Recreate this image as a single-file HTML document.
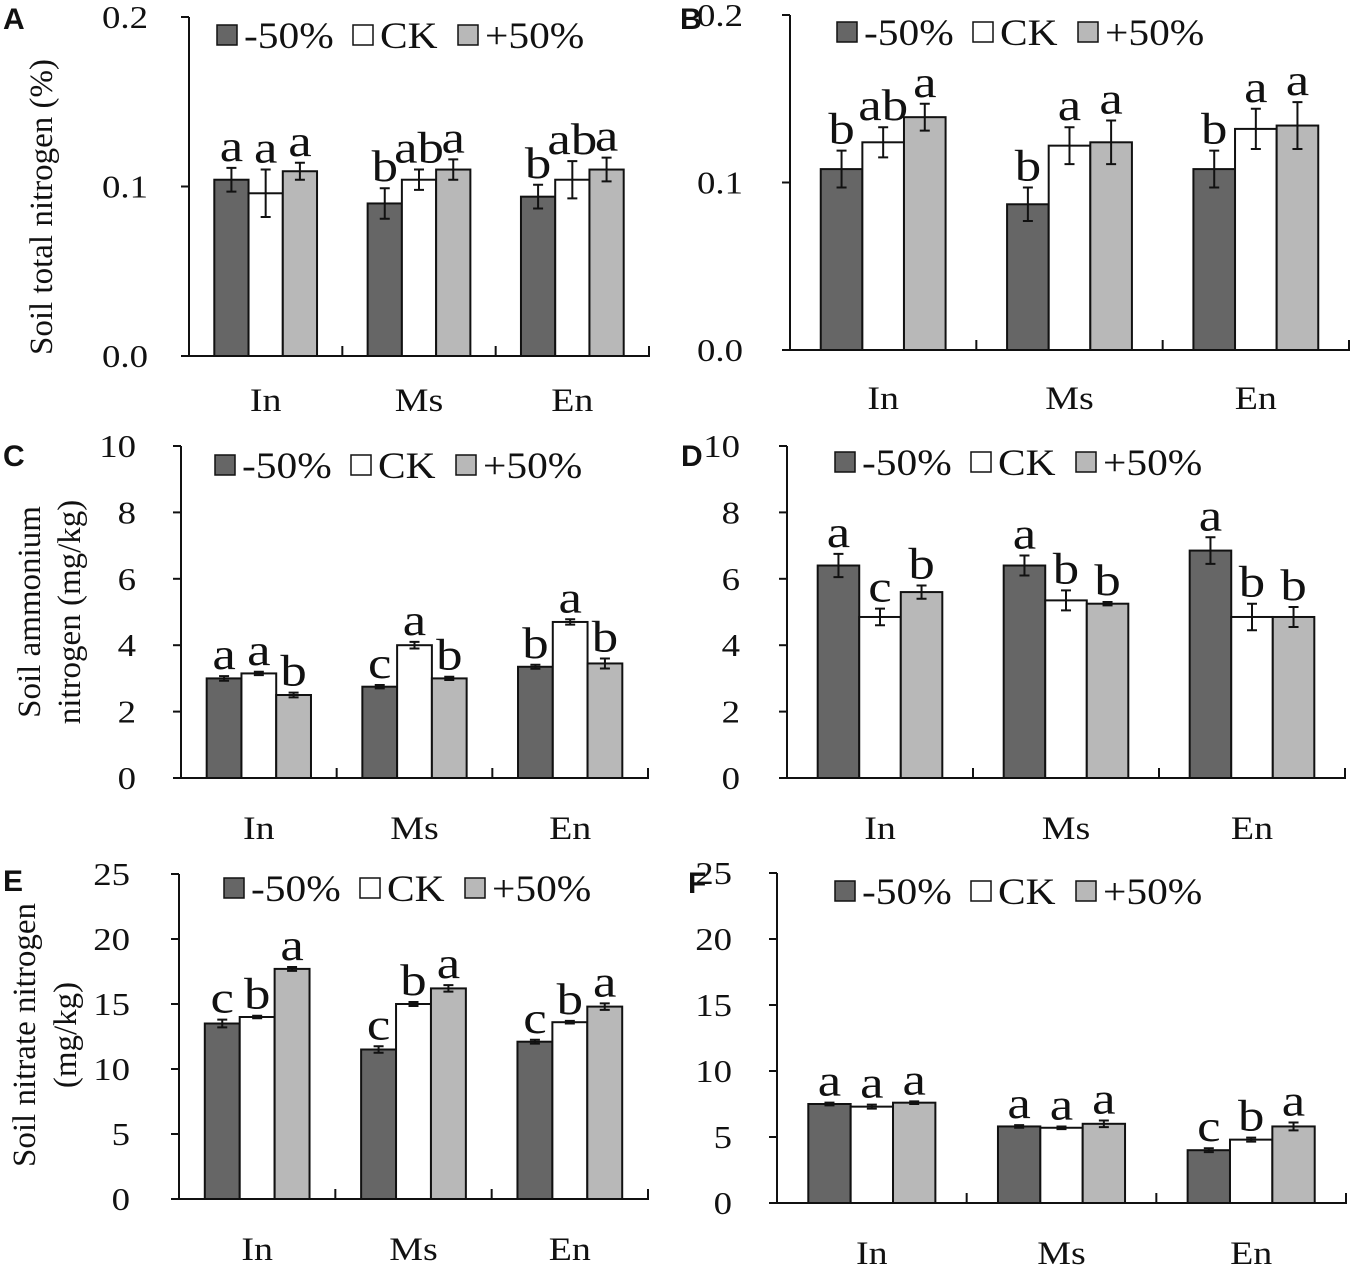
<!DOCTYPE html>
<html><head><meta charset="utf-8">
<style>
html,body{margin:0;padding:0;background:#fff;}
svg{display:block;}
text{font-family:"Liberation Serif",serif;fill:#111;}
.pl{font-family:"Liberation Sans",sans-serif;font-weight:bold;font-size:30px;}
</style></head>
<body>
<svg id="fig" width="1350" height="1267" viewBox="0 0 1350 1267" xmlns="http://www.w3.org/2000/svg"></svg>
<script>
const categories = ["In","Ms","En"];
const seriesNames = ["-50%","CK","+50%"];
const seriesColors = ["#666666","#ffffff","#b8b8b8"];

// Panel A
const aValues = [[0.104,0.090,0.094],[0.096,0.104,0.104],[0.109,0.110,0.110]];
const aErrors = [[0.007,0.009,0.007],[0.014,0.006,0.011],[0.005,0.006,0.007]];
const aLetters = [["a","b","b"],["a","ab","ab"],["a","a","a"]];
const aTicks = ["0.0","0.1","0.2"];
// Panel B
const bValues = [[0.108,0.087,0.108],[0.124,0.122,0.132],[0.139,0.124,0.134]];
const bErrors = [[0.011,0.010,0.011],[0.009,0.011,0.012],[0.008,0.013,0.014]];
const bLetters = [["b","b","b"],["ab","a","a"],["a","a","a"]];
const bTicks = ["0.0","0.1","0.2"];
// Panel C
const cValues = [[3.0,2.75,3.35],[3.15,4.0,4.7],[2.5,3.0,3.45]];
const cErrors = [[0.07,0.05,0.06],[0.05,0.1,0.08],[0.07,0.05,0.15]];
const cLetters = [["a","c","b"],["a","a","a"],["b","b","b"]];
const cTicks = ["0","2","4","6","8","10"];
// Panel D
const dValues = [[6.4,6.4,6.85],[4.85,5.35,4.85],[5.6,5.25,4.85]];
const dErrors = [[0.35,0.3,0.4],[0.25,0.3,0.4],[0.2,0.05,0.3]];
const dLetters = [["a","a","a"],["c","b","b"],["b","b","b"]];
const dTicks = ["0","2","4","6","8","10"];
// Panel E
const eValues = [[13.5,11.5,12.1],[14.0,15.0,13.6],[17.7,16.2,14.8]];
const eErrors = [[0.3,0.25,0.15],[0.1,0.15,0.1],[0.15,0.25,0.25]];
const eLetters = [["c","c","c"],["b","b","b"],["a","a","a"]];
const eTicks = ["0","5","10","15","20","25"];
// Panel F
const fValues = [[7.5,5.8,4.0],[7.3,5.7,4.8],[7.6,6.0,5.8]];
const fErrors = [[0.1,0.1,0.15],[0.15,0.1,0.15],[0.1,0.25,0.3]];
const fLetters = [["a","a","c"],["a","a","b"],["a","a","a"]];
const fTicks = ["0","5","10","15","20","25"];

const NS="http://www.w3.org/2000/svg";
const svg=document.getElementById('fig');
function mk(tag,attrs,parent,txt){const e=document.createElementNS(NS,tag);for(const k in attrs)e.setAttribute(k,attrs[k]);if(txt!==undefined)e.textContent=txt;(parent||svg).appendChild(e);return e;}
function stext(parent,x,y,txt,size,sx,anchor){
  return mk('text',{x:0,y:0,'font-size':size,'text-anchor':anchor||'start',transform:`translate(${x},${y}) scale(${sx},1)`},parent,txt);
}

const panels=[
 {id:"a",label:"A",lx:3,ly:29,vals:aValues,errs:aErrors,lets:aLetters,ticks:aTicks,max:0.2,x0:189,x1:649,yT:17,yB:356,tickR:148,catY:411,legX:217,legY:35,
  title:["Soil total nitrogen (%)"],titleX:[42],titleY:207},
 {id:"b",label:"B",lx:680,ly:29,vals:bValues,errs:bErrors,lets:bLetters,ticks:bTicks,max:0.2,x0:790,x1:1349,yT:15,yB:350,tickR:743,catY:409,legX:837,legY:32},
 {id:"c",label:"C",lx:3,ly:466,vals:cValues,errs:cErrors,lets:cLetters,ticks:cTicks,max:10,x0:181,x1:648,yT:446,yB:778,tickR:136,catY:839,legX:215,legY:465,
  title:["Soil ammonium","nitrogen (mg/kg)"],titleX:[30,70],titleY:612},
 {id:"d",label:"D",lx:681,ly:466,vals:dValues,errs:dErrors,lets:dLetters,ticks:dTicks,max:10,x0:787,x1:1345,yT:446,yB:778,tickR:740,catY:839,legX:835,legY:462},
 {id:"e",label:"E",lx:3,ly:891,vals:eValues,errs:eErrors,lets:eLetters,ticks:eTicks,max:25,x0:179,x1:648,yT:874,yB:1199,tickR:130,catY:1260,legX:224,legY:888,
  title:["Soil nitrate nitrogen","(mg/kg)"],titleX:[25,66],titleY:1035},
 {id:"f",label:"F",lx:688,ly:893,vals:fValues,errs:fErrors,lets:fLetters,ticks:fTicks,max:25,x0:777,x1:1346,yT:873,yB:1203,tickR:732,catY:1264,legX:835,legY:891}
];

panels.forEach(p=>{
  const g=mk('g',{});
  
  
  const y=v=>p.yB-(v/p.max)*(p.yB-p.yT);
  const catW=(p.x1-p.x0)/categories.length;
  const groupW=catW*0.67, barW=groupW/3;
  const pl=mk('text',{x:p.lx,y:p.ly,class:'pl'},g,p.label);
  
  
  for(let s=0;s<3;s++){
    for(let c=0;c<3;c++){
      const v=p.vals[s][c], e=p.errs[s][c];
      const bx=p.x0+c*catW+(catW-groupW)/2+s*barW;
      const r=mk('rect',{x:bx,y:y(v),width:barW,height:p.yB-y(v),fill:seriesColors[s],stroke:'#111','stroke-width':2},g);
      
      
      const cx=bx+barW/2;
      const eb=mk('path',{d:`M${cx},${y(v+e)}V${y(v-e)}M${cx-5},${y(v+e)}H${cx+5}M${cx-5},${y(v-e)}H${cx+5}`,stroke:'#111','stroke-width':2,fill:'none'},g);
      
      
      const lt=stext(g,cx,y(v+e)-7,p.lets[s][c],44,1.2,'middle');
      
      
    }
  }
  const ax=mk('path',{d:`M${p.x0},${p.yT}V${p.yB}H${p.x1}V${p.yB-10}`,stroke:'#111','stroke-width':2,fill:'none'},g);
  
  
  for(let c=1;c<categories.length;c++){
    const sx=p.x0+c*catW;
    const sp=mk('line',{x1:sx,x2:sx,y1:p.yB,y2:p.yB-10,stroke:'#111','stroke-width':2},g);
    
    
  }
  p.ticks.forEach((t,i)=>{
    const v=p.max*i/(p.ticks.length-1);
    const tk=mk('line',{x1:p.x0-8,x2:p.x0,y1:y(v),y2:y(v),stroke:'#111','stroke-width':2},g);
    
    
    const tl=stext(g,p.tickR,y(v)+11,t,32,1.15,'end');
    
    
  });
  categories.forEach((c,i)=>{
    const cl=stext(g,p.x0+(i+0.5)*catW,p.catY,c,33,1.15,'middle');
    
    
  });
  const lg=mk('g',{},g);
  
  
  const offs=[0,136,241];
  seriesNames.forEach((n,s)=>{
    const lx=p.legX+offs[s];
    const sq=mk('rect',{x:lx,y:p.legY-10,width:20,height:20,fill:seriesColors[s],stroke:'#111','stroke-width':1.5},lg);
    
    
    const lt=stext(lg,lx+27,p.legY+13,n,37,1.12,'start');
    
    
  });
  if(p.title){
    p.title.forEach((t,i)=>{
      const tt=mk('text',{x:p.titleX[i],y:p.titleY,'text-anchor':'middle','dominant-baseline':'central','font-size':33,transform:`rotate(-90 ${p.titleX[i]} ${p.titleY})`},g,t);
      
      
    });
  }
});
</script>
</body></html>
